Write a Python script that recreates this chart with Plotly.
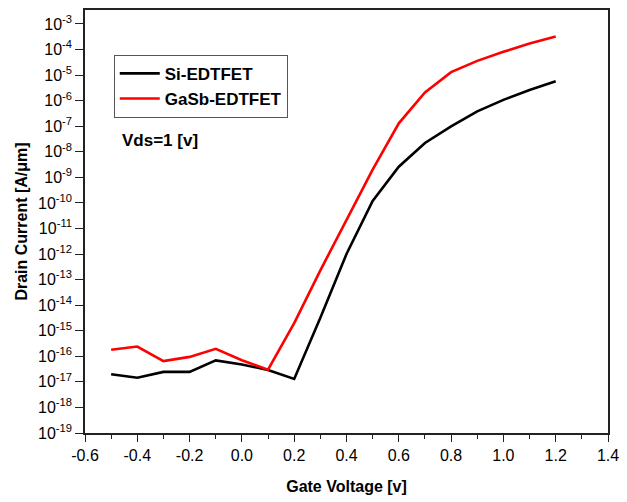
import plotly.graph_objects as go

vgs = [-0.5, -0.4, -0.3, -0.2, -0.1, 0.0, 0.1, 0.2, 0.3, 0.4, 0.5, 0.6, 0.7, 0.8, 0.9, 1.0, 1.1, 1.2]
si_id = [2.0e-17, 1.45e-17, 2.45e-17, 2.45e-17, 6.9e-17, 4.8e-17, 2.9e-17, 1.3e-17,
         3.2e-15, 1.0e-12, 1.2e-10, 2.6e-9, 2.2e-8, 9.8e-8, 3.8e-7, 1.07e-6, 2.6e-6, 5.7e-6]
gasb_id = [1.8e-16, 2.4e-16, 6.5e-17, 9.5e-17, 1.95e-16, 7.0e-17, 3.0e-17, 2.0e-15,
           2.3e-13, 2.1e-11, 2.0e-9, 1.3e-7, 2.1e-6, 1.3e-5, 3.6e-5, 8.1e-5, 1.7e-4, 3.2e-4]

x_ticks = [-0.6, -0.4, -0.2, 0.0, 0.2, 0.4, 0.6, 0.8, 1.0, 1.2, 1.4]
x_labels = ["-0.6", "-0.4", "-0.2", "0.0", "0.2", "0.4", "0.6", "0.8", "1.0", "1.2", "1.4"]
y_exps = list(range(-19, -2))
y_ticks = [10.0 ** e for e in y_exps]
y_labels = ["10<sup>%d</sup>" % e for e in y_exps]

FONT = "Liberation Sans, Arial, sans-serif"

fig = go.Figure()
fig.add_trace(go.Scatter(x=vgs, y=si_id, mode="lines", name="Si-EDTFET",
                         line=dict(color="#000000", width=2.6)))
fig.add_trace(go.Scatter(x=vgs, y=gasb_id, mode="lines", name="GaSb-EDTFET",
                         line=dict(color="#ff0000", width=2.6)))

fig.update_layout(
    width=627, height=502,
    margin=dict(l=85, r=13, t=8, b=69),
    paper_bgcolor="white", plot_bgcolor="white",
    font=dict(family=FONT, color="#000000"),
    showlegend=True,
    legend=dict(x=0.055, y=0.894, xanchor="left", yanchor="top",
                bordercolor="#555555", borderwidth=1, bgcolor="white",
                font=dict(size=17, family=FONT, weight="bold"),
                tracegroupgap=2, itemwidth=40),
    xaxis=dict(range=[-0.6, 1.4], tickvals=x_ticks, ticktext=x_labels,
               ticks="outside", ticklen=7, tickwidth=1.3, tickcolor="#222",
               minor=dict(ticks="outside", ticklen=4, tickwidth=1.2, tickcolor="#222", dtick=0.1),
               showline=True, linecolor="#222", linewidth=1.6, mirror=True,
               showgrid=False, zeroline=False,
               tickfont=dict(size=16, family=FONT),
               title=dict(text="Gate Voltage [v]", font=dict(size=16, family=FONT, weight="bold"),
                          standoff=18)),
    yaxis=dict(type="log", range=[-19, -2.455], tickvals=y_ticks, ticktext=y_labels,
               ticks="outside", ticklen=8, tickwidth=1.3, tickcolor="#222",
               showline=True, linecolor="#222", linewidth=1.6, mirror=True,
               showgrid=False, zeroline=False,
               tickfont=dict(size=16, family=FONT),
               title=dict(text="Drain Current [A/\u03bcm]", font=dict(size=16, family=FONT, weight="bold"),
                          standoff=6)),
)

fig.add_annotation(x=0.066, y=0.692, xref="paper", yref="paper", xanchor="left", yanchor="middle",
                   text="<b>Vds=1 [v]</b>", showarrow=False, font=dict(size=17, family=FONT))

fig.write_html("out.html")
